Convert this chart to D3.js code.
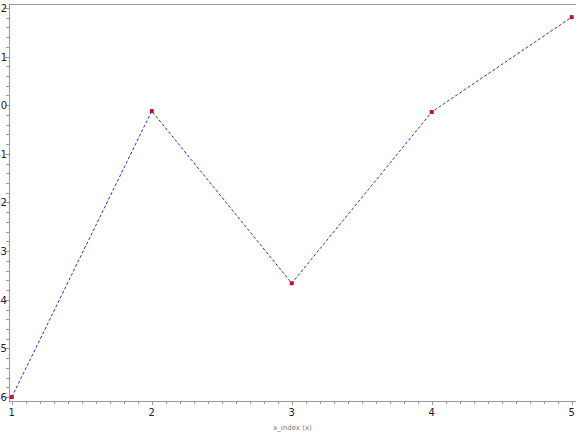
<!DOCTYPE html>
<html>
<head>
<meta charset="utf-8">
<script src="https://cdn.jsdelivr.net/npm/d3@7"></script>
<style>
    body { margin: 0; background: #fff; overflow: hidden; }
    svg text { font-family: "DejaVu Sans", sans-serif; }
</style>
</head>
<body>
<svg id="chart" width="584" height="432"></svg>
<script>
const X_VALUES = [1, 2, 3, 4, 5];
const Y_VALUES = [-6.0, -0.12, -3.66, -0.14, 1.81];
const X_TICKS = [1, 2, 3, 4, 5];
const Y_TICKS = [2, 1, 0, -1, -2, -3, -4, -5, -6];
const X_LABEL = "x_index (x)";

const svg = d3.select("#chart");
const plotLeft = 9, plotRight = 576, plotTop = 4, plotBottom = 401;

// scales, a little padding past the first / last value
let x = d3.scaleLinear().domain([0.98, 5.02]).range([plotLeft, plotRight - 1.5]);
let y = d3.scaleLinear().domain([-6.07, 2.08]).range([plotBottom - 0.5, plotTop]);

// frame (left, top, bottom)
svg.append("path")
    .attr("d", `M${plotRight},${plotTop + 0.5}H${plotLeft + 0.5}V${plotBottom + 0.5}H${plotRight}`)
    .attr("fill", "none")
    .attr("stroke", "#999")
    .attr("stroke-width", 1)
    .attr("shape-rendering", "crispEdges");

// x axis ticks
let xMinor = d3.range(10, 51).map(d => d / 10);
svg.append("g").selectAll("line")
    .data(xMinor)
    .enter()
    .append("line")
    .attr("x1", d => Math.round(x(d)) + 0.5)
    .attr("x2", d => Math.round(x(d)) + 0.5)
    .attr("y1", plotBottom)
    .attr("y2", (d, i) => i % 10 === 0 ? plotBottom + 4 : plotBottom + 3)
    .attr("stroke", "#999")
    .attr("shape-rendering", "crispEdges");

svg.append("g").selectAll("text")
    .data(X_TICKS)
    .enter()
    .append("text")
    .attr("x", d => x(d))
    .attr("y", plotBottom + 15)
    .attr("text-anchor", "middle")
    .attr("font-size", 10)
    .attr("fill", "#222")
    .text(d => d);

svg.append("text")
    .attr("x", (plotLeft + plotRight) / 2)
    .attr("y", 430)
    .attr("text-anchor", "middle")
    .attr("font-size", 7)
    .attr("fill", "#777")
    .text(X_LABEL);

// y axis ticks
let yMinor = d3.range(-30, 11).map(d => d / 5);
svg.append("g").selectAll("line")
    .data(yMinor)
    .enter()
    .append("line")
    .attr("x1", plotLeft)
    .attr("x2", (d, i) => i % 5 === 0 ? plotLeft - 4 : plotLeft - 3)
    .attr("y1", d => Math.round(y(d)) + 0.5)
    .attr("y2", d => Math.round(y(d)) + 0.5)
    .attr("stroke", "#999")
    .attr("shape-rendering", "crispEdges");

svg.append("g").selectAll("text")
    .data(Y_TICKS)
    .enter()
    .append("text")
    .attr("x", plotLeft - 2)
    .attr("y", d => y(d) + 4)
    .attr("text-anchor", "end")
    .attr("font-size", 10)
    .attr("fill", "#222")
    .text(d => d);

// dashed series line
let points = X_VALUES.map((d, i) => [d, Y_VALUES[i]]);
let line = d3.line().x(d => x(d[0])).y(d => y(d[1]));

svg.append("path")
    .datum(points)
    .attr("d", line)
    .attr("fill", "none")
    .attr("stroke", "#3030c0")
    .attr("stroke-width", 1)
    .attr("stroke-dasharray", "3,2");

// markers
svg.append("g").selectAll("rect")
    .data(points)
    .enter()
    .append("rect")
    .attr("x", d => x(d[0]) - 2)
    .attr("y", d => y(d[1]) - 2)
    .attr("width", 4)
    .attr("height", 4)
    .attr("fill", "#c0103a");
</script>
</body>
</html>
